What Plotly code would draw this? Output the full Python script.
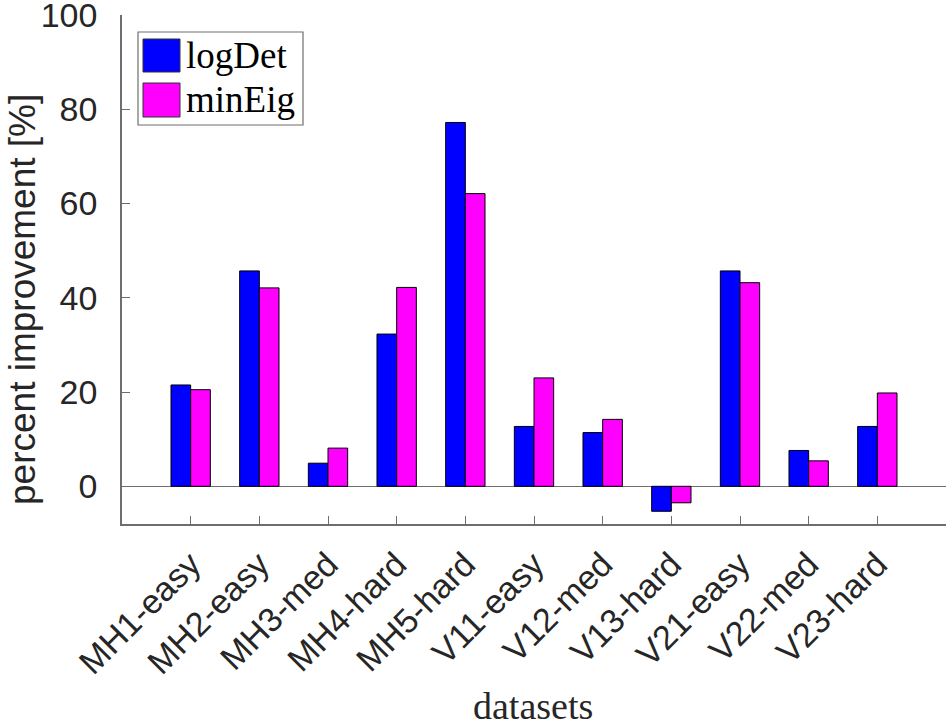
import plotly.graph_objects as go

categories = ["MH1-easy", "MH2-easy", "MH3-med", "MH4-hard", "MH5-hard",
              "V11-easy", "V12-med", "V13-hard", "V21-easy", "V22-med", "V23-hard"]
logdet = [21.5, 45.7, 4.9, 32.3, 77.2, 12.7, 11.4, -5.3, 45.7, 7.6, 12.7]
mineig = [20.5, 42.1, 8.1, 42.2, 62.1, 23.0, 14.2, -3.5, 43.2, 5.4, 19.8]
series_names = ["logDet", "minEig"]
series_colors = ["#0000ff", "#ff00ff"]
yticks = [0, 20, 40, 60, 80, 100]
x_title = "datasets"
y_title = "percent improvement [%]"

xpos = list(range(1, len(categories) + 1))
axis_gray = "#6e6e6e"
sans = "Liberation Sans, Arial, sans-serif"
serif = "Liberation Serif, Times New Roman, serif"
tick_font = dict(family=sans, size=34, color="#262626")

fig = go.Figure()
for name, vals, col in zip(series_names, [logdet, mineig], series_colors):
    fig.add_trace(go.Bar(x=xpos, y=vals, name=name,
                         marker=dict(color=col, line=dict(color="black", width=1)),
                         showlegend=False))

fig.update_layout(
    width=947, height=726,
    margin=dict(l=122, r=1, t=15, b=202, autoexpand=False),
    paper_bgcolor="white", plot_bgcolor="white",
    barmode="group", bargap=0.427, bargroupgap=0,
    xaxis=dict(range=[0, 12], tickvals=xpos, ticktext=categories, tickangle=-45,
               showline=True, linecolor=axis_gray, linewidth=1.5, mirror=False,
               ticks="inside", ticklen=8, tickcolor=axis_gray, tickwidth=1,
               showgrid=False, zeroline=False, tickfont=tick_font, automargin=False,
               ticklabelstandoff=5, ticklabeloverflow="allow"),
    yaxis=dict(range=[-8, 100], tickvals=yticks,
               showline=True, linecolor=axis_gray, linewidth=1.5, mirror=False,
               ticks="inside", ticklen=8, tickcolor=axis_gray, tickwidth=1,
               showgrid=False, zeroline=True, zerolinecolor=axis_gray, zerolinewidth=1,
               tickfont=tick_font, ticklabelstandoff=16, automargin=False,
               ticklabeloverflow="allow"),
)

W, H = 824.0, 509.0
def px(xp):
    return (xp - 122) / W
def py(yp):
    return (524 - yp) / H

annotations = [
    dict(xref="paper", yref="paper", x=px(533), y=py(723), text=x_title, showarrow=False,
         xanchor="center", yanchor="bottom", yshift=-6,
         font=dict(family=serif, size=38, color="#262626")),
    dict(xref="paper", yref="paper", x=px(22), y=py(300), text=y_title, showarrow=False,
         textangle=-90, xanchor="center", yanchor="middle",
         font=dict(family=sans, size=37, color="#262626")),
]

# legend drawn manually (box, swatches, labels) to mimic MATLAB large swatches
shapes = [dict(type="rect", xref="paper", yref="paper", x0=px(138), x1=px(303), y0=py(125), y1=py(32),
               line=dict(color=axis_gray, width=1.2), fillcolor="white", layer="above")]
rows = [(39, 72), (83, 117)]
for (top, bot), name, col in zip(rows, series_names, series_colors):
    shapes.append(dict(type="rect", xref="paper", yref="paper", x0=px(143), x1=px(180), y0=py(bot), y1=py(top),
                       line=dict(color="#333333", width=1), fillcolor=col, layer="above"))
    annotations.append(dict(xref="paper", yref="paper", x=px(184), y=py((top + bot) / 2), text=name,
                            showarrow=False, xanchor="left", yanchor="middle",
                            font=dict(family=serif, size=37, color="black")))
fig.update_layout(shapes=shapes, annotations=annotations)

fig.write_html("out.html", config={"displayModeBar": False},
               post_script="document.body.style.margin='0';document.body.style.overflow='hidden';")
